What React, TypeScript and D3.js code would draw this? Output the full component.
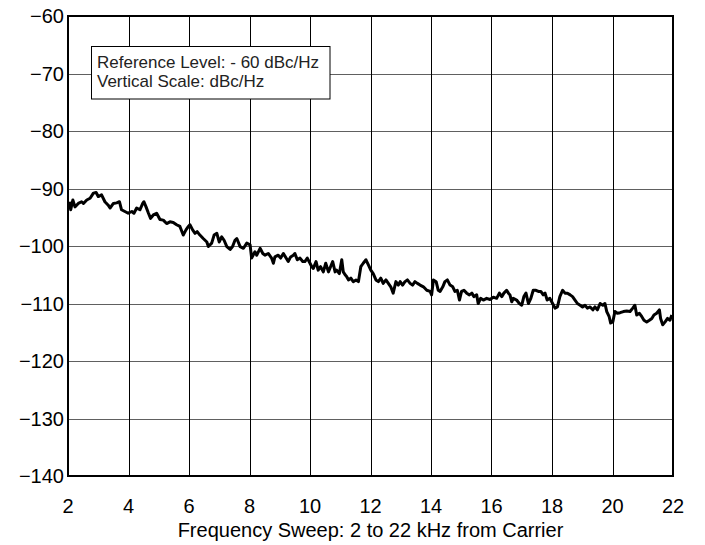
import React from "react";
import * as d3 from "d3";

const freqKHz: number[] = [
  2.04, 2.09, 2.16, 2.23, 2.34, 2.45, 2.51, 2.62, 2.73, 2.84, 2.93, 3.0, 3.11, 3.22, 3.33, 3.39, 3.5, 3.61, 3.7, 3.77,
  3.88, 3.99, 4.11, 4.18, 4.27, 4.38, 4.47, 4.51, 4.58, 4.66, 4.73, 4.82, 4.93, 5.04, 5.15, 5.26, 5.37, 5.48, 5.59, 5.7,
  5.81, 5.9, 5.98, 6.03, 6.12, 6.2, 6.27, 6.36, 6.47, 6.59, 6.64, 6.75, 6.83, 6.92, 7.0, 7.08, 7.16, 7.25, 7.36, 7.44,
  7.52, 7.58, 7.69, 7.8, 7.91, 8.02, 8.07, 8.18, 8.24,
  8.35, 8.44, 8.51, 8.62, 8.73, 8.79, 8.84, 8.95, 9.03, 9.12, 9.21, 9.28, 9.36, 9.45, 9.5, 9.58, 9.67, 9.76, 9.83, 9.91,
  10.0, 10.06, 10.11, 10.2, 10.27, 10.35, 10.44, 10.52, 10.61, 10.68, 10.75, 10.83, 10.88, 10.97, 11.05, 11.1, 11.16,
  11.21, 11.27, 11.35, 11.43, 11.52, 11.6, 11.68, 11.76, 11.85, 11.93, 12.01, 12.09, 12.18, 12.26, 12.34, 12.42, 12.51,
  12.59, 12.67, 12.75, 12.84, 12.92, 12.98, 13.06, 13.14, 13.22, 13.31, 13.39, 13.47, 13.55, 13.64, 13.75, 13.86, 13.97,
  14.02, 14.08, 14.17, 14.24, 14.3, 14.39, 14.46, 14.54, 14.63, 14.72, 14.79, 14.87, 14.94,
  15.01, 15.09, 15.18, 15.27, 15.35, 15.42, 15.51, 15.56, 15.64, 15.73, 15.84, 15.95, 16.06, 16.17, 16.26, 16.34, 16.41,
  16.5, 16.56, 16.61, 16.67, 16.72, 16.83, 16.92, 17.0, 17.07, 17.14, 17.22, 17.3, 17.38, 17.47, 17.55, 17.63, 17.71,
  17.77, 17.84, 17.93, 18.02, 18.1, 18.18, 18.26, 18.35, 18.43, 18.51, 18.6, 18.68, 18.76, 18.84, 18.93, 19.01, 19.09,
  19.17, 19.26, 19.35, 19.42, 19.5, 19.59, 19.68, 19.75, 19.81, 19.89, 19.94, 20.01, 20.08, 20.16, 20.25, 20.36, 20.47,
  20.58, 20.67, 20.74, 20.8, 20.89, 20.97, 21.04, 21.13, 21.22, 21.3, 21.37, 21.46, 21.55, 21.59, 21.66, 21.74, 21.82,
  21.9, 21.96,
];

const levelDbc: number[] = [
  -92.3, -93.7, -92.0, -93.2, -92.6, -92.3, -92.6, -92.0, -91.7, -90.8, -90.7, -91.4, -91.1, -92.3, -92.9, -93.4, -92.6,
  -92.5, -92.3, -93.7, -94.0, -94.3, -94.0, -94.3, -93.4, -93.7, -92.6, -92.3, -93.2, -94.3, -95.2, -94.6, -94.3, -95.4,
  -95.5, -96.1, -95.8, -95.9, -96.3, -96.6, -98.1, -97.2, -96.6, -96.3, -97.2, -97.8, -97.5, -98.1, -98.7, -99.3, -100.1,
  -99.5, -98.1, -97.8, -99.3, -98.4, -99.0, -100.1, -100.6, -100.1, -99.0, -98.7, -100.1, -100.4, -99.5, -99.8, -102.1,
  -101.0, -101.6,
  -100.4, -101.3, -101.6, -101.3, -102.1, -103.0, -101.9, -101.6, -102.1, -101.3, -102.1, -102.7, -101.9, -101.6, -101.3,
  -102.4, -102.1, -102.7, -102.7, -102.1, -103.0, -103.6, -103.9, -102.7, -104.2, -103.6, -104.5, -103.0, -104.5, -103.6,
  -102.7, -104.5, -104.2, -104.8, -102.4, -104.5, -105.0, -105.3, -105.9, -105.6, -106.2, -105.9, -106.2, -103.6, -103.0,
  -102.4, -103.3, -104.2, -104.8, -105.9, -106.2, -105.6, -106.5, -105.9, -106.5, -107.1, -108.2, -106.2, -106.8, -106.2,
  -106.8, -106.2, -105.9, -106.5, -106.8, -106.2, -106.5, -106.8, -107.1, -107.7, -107.9, -108.5, -105.9, -106.2, -107.7,
  -107.9, -107.1, -106.2, -105.9, -106.8, -107.1, -107.9, -107.7, -109.4,
  -107.9, -107.7, -108.2, -108.5, -108.2, -108.8, -108.5, -110.0, -109.1, -109.4, -109.1, -109.3, -108.9, -109.1, -108.2,
  -108.8, -108.2, -107.7, -108.2, -108.5, -109.7, -109.1, -109.4, -110.0, -110.3, -108.8, -108.2, -110.0, -109.1, -107.7,
  -107.7, -107.9, -107.9, -108.5, -108.2, -109.4, -109.1, -110.0, -110.8, -110.6, -108.8, -107.7, -108.2, -108.2, -108.5,
  -108.8, -109.4, -110.0, -110.3, -110.6, -110.3, -110.8, -110.6, -111.1, -110.6, -111.1, -110.0, -110.3, -110.0, -111.4,
  -112.3, -113.4, -113.2, -111.4, -111.7, -111.6, -111.4, -111.3, -111.4, -110.8, -110.3, -112.0, -111.7, -112.3, -112.9,
  -113.2, -112.9, -112.6, -112.0, -111.7, -111.1, -112.6, -113.7, -113.2, -112.6, -112.9, -112.0,
];

const xTicks: number[] = [2, 4, 6, 8, 10, 12, 14, 16, 18, 20, 22];
const yTicks: number[] = [-60, -70, -80, -90, -100, -110, -120, -130, -140];
const legendLines: string[] = ["Reference Level: - 60 dBc/Hz", "Vertical Scale: dBc/Hz"];
const xTitle = "Frequency Sweep: 2 to 22 kHz from Carrier";

const W = 705;
const H = 545;
const L = 68;
const R = 673;
const T = 16;
const B = 476;
const FONT = "'Liberation Sans', Arial, sans-serif";

export default function App() {
  const x = d3.scaleLinear().domain([2, 22]).range([L, R]);
  const y = d3.scaleLinear().domain([-140, -60]).range([B, T]);
  const pts: [number, number][] = freqKHz.map((f, i) => [f, levelDbc[i]]);
  const line = d3
    .line<[number, number]>()
    .x((d) => x(d[0]))
    .y((d) => y(d[1]));
  const fmt = (v: number) => (v < 0 ? "\u2212" + Math.abs(v) : String(v));

  return (
    <svg
      width={W}
      height={H}
      style={{ position: "absolute", left: 0, top: 0, background: "#fff" }}
      fontFamily={FONT}
    >
      <rect x={0} y={0} width={W} height={H} fill="#fff" />
      {yTicks.map((t) => (
        <line key={"h" + t} x1={L} x2={R} y1={Math.round(y(t)) + 0.5} y2={Math.round(y(t)) + 0.5} stroke="#606060" strokeWidth={1} />
      ))}
      {xTicks.map((t) => (
        <line key={"v" + t} x1={Math.round(x(t)) + 0.5} x2={Math.round(x(t)) + 0.5} y1={T} y2={B} stroke="#000" strokeWidth={1} />
      ))}
      <rect x={L} y={T} width={R - L} height={B - T} fill="none" stroke="#000" strokeWidth={2} />
      <rect x={91.5} y={46.5} width={238.5} height={52.5} fill="#fff" stroke="#000" strokeWidth={1} />
      {legendLines.map((s, i) => (
        <text key={s} x={97} y={68 + i * 19} fontSize={17} fill="#222">
          {s}
        </text>
      ))}
      <path d={line(pts) || ""} fill="none" stroke="#000" strokeWidth={3} strokeLinejoin="round" />
      {yTicks.map((t) => (
        <text key={"yl" + t} x={L - 4} y={y(t)} dy="0.36em" textAnchor="end" fontSize={20} fill="#000">
          {fmt(t)}
        </text>
      ))}
      {xTicks.map((t) => (
        <text key={"xl" + t} x={x(t)} y={506} dy="0.36em" textAnchor="middle" fontSize={20} fill="#000">
          {t}
        </text>
      ))}
      <text x={(L + R) / 2} y={530} dy="0.36em" textAnchor="middle" fontSize={20} fill="#000">
        {xTitle}
      </text>
    </svg>
  );
}
